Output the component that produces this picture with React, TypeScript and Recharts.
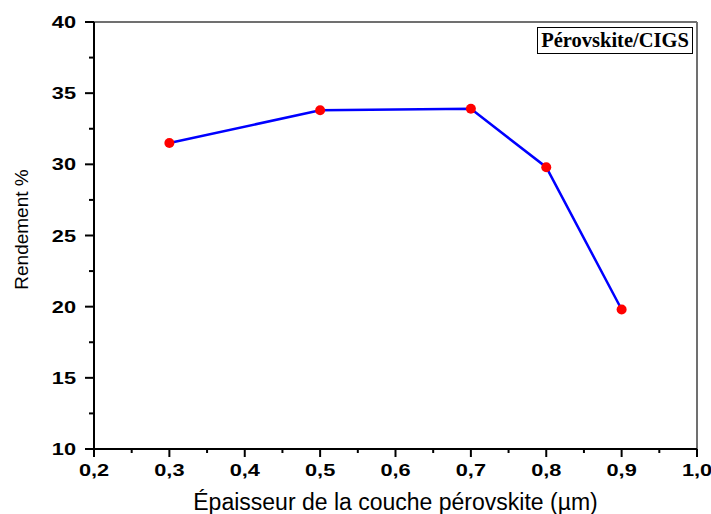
import React from "react";
import { LineChart, Line, XAxis, YAxis, ReferenceLine } from "recharts";

// Absorber thickness (µm) and resulting efficiency (%)
const thickness = [0.3, 0.5, 0.7, 0.8, 0.9];
const efficiency = [31.5, 33.8, 33.9, 29.8, 19.8];

// Tick positions: majors are labelled, the in-between ones are minor marks
const xTicks = [0.2, 0.25, 0.3, 0.35, 0.4, 0.45, 0.5, 0.55, 0.6, 0.65, 0.7, 0.75, 0.8, 0.85, 0.9, 0.95, 1.0];
const xMajor = [0.2, 0.3, 0.4, 0.5, 0.6, 0.7, 0.8, 0.9, 1.0];
const yTicks = [10, 12.5, 15, 17.5, 20, 22.5, 25, 27.5, 30, 32.5, 35, 37.5, 40];
const yMajor = [10, 15, 20, 25, 30, 35, 40];

const seriesName = "Pérovskite/CIGS";
const xTitle = "Épaisseur de la couche pérovskite (µm)";
const yTitle = "Rendement %";

const data = thickness.map((t, i) => ({ t, eff: efficiency[i] }));

const isIn = (list: number[], v: number) => list.some((m) => Math.abs(m - v) < 1e-6);
const fmtX = (v: number) => v.toFixed(1).replace(".", ",");

const sans = "Arial, 'Liberation Sans', sans-serif";
const tickFont = {
  fontFamily: sans,
  fontWeight: 700,
  fontSize: 17,
  fill: "#000",
};
// tick numerals are set in a widened face
const widen = 1.28;

const XTick = (props: any) => {
  const { x, y, payload } = props;
  const v = payload.value as number;
  const major = isIn(xMajor, v);
  return (
    <g>
      <line x1={x} x2={x} y1={y} y2={y + (major ? 8 : 4)} stroke="#000" strokeWidth={2} />
      {major && (
        <text
          x={0}
          y={0}
          transform={`translate(${x} ${y + 27}) scale(${widen} 1)`}
          textAnchor="middle"
          {...tickFont}
        >
          {fmtX(v)}
        </text>
      )}
    </g>
  );
};

const YTick = (props: any) => {
  const { x, y, payload } = props;
  const v = payload.value as number;
  const major = isIn(yMajor, v);
  return (
    <g>
      <line x1={x - (major ? 9 : 5)} x2={x} y1={y} y2={y} stroke="#000" strokeWidth={2} />
      {major && (
        <text
          x={0}
          y={0}
          transform={`translate(${x - 18} ${y + 6}) scale(${widen} 1)`}
          textAnchor="end"
          {...tickFont}
        >
          {v}
        </text>
      )}
    </g>
  );
};

const YTitle = (props: any) => {
  const { viewBox } = props;
  const cx = viewBox.x + 28;
  const cy = viewBox.y + viewBox.height / 2 - 6;
  return (
    <text
      x={cx}
      y={cy}
      transform={`rotate(-90 ${cx} ${cy})`}
      textAnchor="middle"
      fontFamily={sans}
      fontSize={19}
      fill="#000"
    >
      {yTitle}
    </text>
  );
};

export default function App() {
  return (
    <div style={{ position: "absolute", left: 0, top: 0, width: 711, height: 514, background: "#fff" }}>
      <LineChart width={711} height={514} data={data} margin={{ top: 22, right: 14, bottom: 0, left: 0 }}>
        <XAxis
          dataKey="t"
          type="number"
          domain={[0.2, 1.0]}
          ticks={xTicks}
          interval={0}
          height={65}
          tickSize={0}
          tickMargin={0}
          tickLine={false}
          tick={<XTick />}
          axisLine={{ stroke: "#000", strokeWidth: 2 }}
          label={{
            value: xTitle,
            position: "insideBottom",
            offset: 4,
            style: { fontFamily: sans, fontSize: 23, fill: "#000" },
          }}
        />
        <YAxis
          type="number"
          domain={[10, 40]}
          ticks={yTicks}
          interval={0}
          width={94}
          tickSize={0}
          tickMargin={0}
          tickLine={false}
          tick={<YTick />}
          axisLine={{ stroke: "#000", strokeWidth: 2 }}
          label={<YTitle />}
        />
        <ReferenceLine y={40} stroke="#707070" strokeWidth={2} />
        <ReferenceLine x={1.0} stroke="#707070" strokeWidth={2} />
        <Line
          dataKey="eff"
          name={seriesName}
          stroke="#0000ff"
          strokeWidth={2.5}
          dot={{ r: 5, fill: "#ff0000", stroke: "none" }}
          activeDot={false}
          isAnimationActive={false}
        />
      </LineChart>
      <div
        style={{
          position: "absolute",
          left: 537,
          top: 27,
          width: 154,
          height: 25,
          border: "1.5px solid #000",
          display: "flex",
          alignItems: "center",
          justifyContent: "center",
          fontFamily: "'Times New Roman', 'Liberation Serif', serif",
          fontWeight: 700,
          fontSize: 20.5,
          color: "#000",
          boxSizing: "content-box",
        }}
      >
        {seriesName}
      </div>
    </div>
  );
}
